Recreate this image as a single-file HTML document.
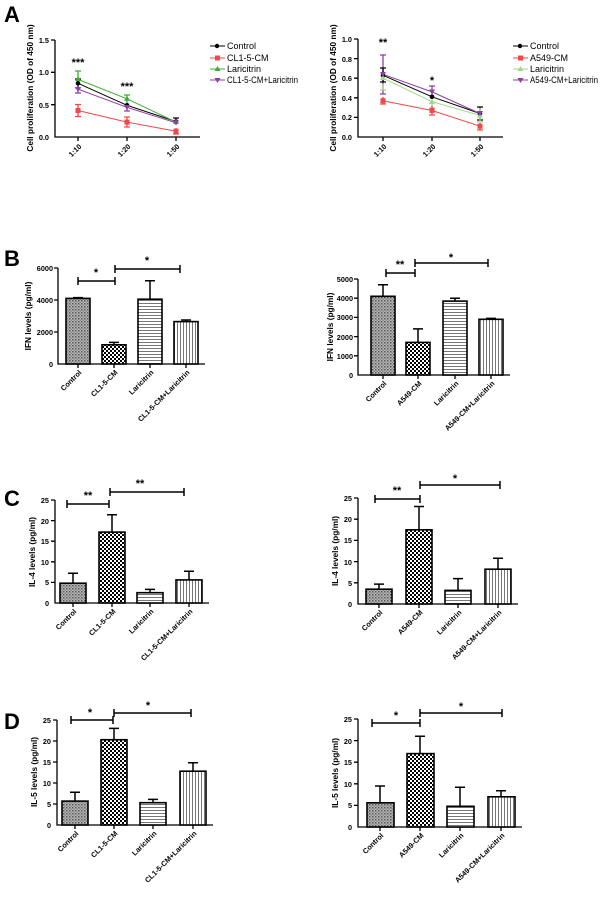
<!DOCTYPE html>
<html><head><meta charset="utf-8"><style>
body{margin:0;background:#fff}
svg{display:block;font-family:"Liberation Sans",Arial,sans-serif;font-weight:bold}
.t{font-size:7.3px}
.yl{font-size:8.3px}
.lg{font-size:9px;font-weight:normal}
.st{font-size:11px}
.ax{stroke:#000;stroke-width:1.3;fill:none}
.b{stroke:#000;stroke-width:1.6}
.e{stroke:#000;stroke-width:1.5;fill:none}
.L{font-size:22px;font-family:"Liberation Sans",Arial,sans-serif;font-weight:bold}
</style></head><body>
<svg width="600" height="901" viewBox="0 0 600 901" xmlns="http://www.w3.org/2000/svg">
<defs>
<pattern id="pc" width="3" height="3" patternUnits="userSpaceOnUse"><rect width="3" height="3" fill="#bbb"/><rect width="1.5" height="1.5" fill="#555"/><rect x="1.5" y="1.5" width="1.5" height="1.5" fill="#888"/></pattern>
<pattern id="pm" width="4" height="4" patternUnits="userSpaceOnUse"><rect width="4" height="4" fill="#fff"/><rect width="2" height="2" fill="#000"/><rect x="2" y="2" width="2" height="2" fill="#000"/></pattern>
<pattern id="ph" width="3" height="3" patternUnits="userSpaceOnUse"><rect width="3" height="3" fill="#fff"/><rect width="3" height="1" fill="#777"/></pattern>
<pattern id="pv" width="3" height="3" patternUnits="userSpaceOnUse"><rect width="3" height="3" fill="#fff"/><rect width="1" height="3" fill="#777"/></pattern>
</defs>
<rect width="600" height="901" fill="#fff"/>
<text class="L" x="4" y="22">A</text>
<text class="L" x="4" y="266">B</text>
<text class="L" x="4" y="506">C</text>
<text class="L" x="4" y="729">D</text>

<!-- A left -->
<g>
<path class="ax" d="M55 40V137H200M51 40H55M51 104.7H55M51 72.3H55M78 137v4M127 137v4M176 137v4"/>
<g class="t" text-anchor="end"><text x="49" y="43">1.5</text><text x="49" y="75">1.0</text><text x="49" y="108">0.5</text><text x="49" y="140">0.0</text></g>
<text class="yl" transform="translate(33,88) rotate(-90)" text-anchor="middle">Cell proliferation (OD of 450 nm)</text>
<g class="t" text-anchor="end"><text transform="translate(82,147) rotate(-45)">1:10</text><text transform="translate(131,147) rotate(-45)">1:20</text><text transform="translate(180,147) rotate(-45)">1:50</text></g>
<text class="st" x="78" y="66" text-anchor="middle">***</text><text class="st" x="127" y="90" text-anchor="middle">***</text>
<polyline points="78,83.3 127,105.3 176,121.5" stroke="#000" fill="none"/>
<polyline points="78,110.5 127,122.1 176,131.2" stroke="#f04848" fill="none"/>
<polyline points="78,79.4 127,98.8 176,122.1" stroke="#3cb030" fill="none"/>
<polyline points="78,89.1 127,107.3 176,122.8" stroke="#8e3fa8" fill="none"/>
<path stroke="#3cb030" stroke-width="1.3" d="M78 71V88M75 71h6M75 88h6M127 95V103M124 95h6"/>
<path stroke="#f04848" stroke-width="1.3" d="M78 104.5V116.5M75 104.5h6M75 116.5h6M127 117V127M124 117h6M124 127h6M176 128V134M173 134h6"/>
<path stroke="#000" stroke-width="1.3" d="M78 79V87M75 79h6M176 118v6M173 118h6"/>
<path stroke="#8e3fa8" stroke-width="1.3" d="M78 85V93M75 93h6M127 103V111M124 111h6"/>
<circle cx="78" cy="83.3" r="2.3"/><circle cx="127" cy="105.3" r="2.3"/><circle cx="176" cy="121.5" r="2.3"/>
<g fill="#f04848"><rect x="75.5" y="108" width="5" height="5"/><rect x="124.5" y="119.6" width="5" height="5"/><rect x="173.5" y="128.7" width="5" height="5"/></g>
<g fill="#3cb030"><path d="M78 76l3 5h-6z M127 95.8l3 5h-6z M176 119l3 5h-6z"/></g>
<g fill="#8e3fa8"><path d="M78 92l3-5h-6z M127 110l3-5h-6z M176 125.5l3-5h-6z"/></g>
<g class="lg">
<path d="M210 46h15" stroke="#000"/><circle cx="217" cy="46" r="2.2"/><text x="227" y="49">Control</text>
<path d="M210 58h15" stroke="#f04848"/><rect x="215" y="55.5" width="5" height="5" fill="#f04848"/><text x="227" y="61">CL1-5-CM</text>
<path d="M210 69h15" stroke="#3cb030"/><path d="M217.5 66l3 5h-6z" fill="#3cb030"/><text x="227" y="72">Laricitrin</text>
<path d="M210 80h15" stroke="#8e3fa8"/><path d="M217.5 83l3-5h-6z" fill="#8e3fa8"/><text x="227" y="83" textLength="71" lengthAdjust="spacingAndGlyphs">CL1-5-CM+Laricitrin</text>
</g>
</g>

<!-- A right -->
<g>
<path class="ax" d="M358 39V137H503M354 39H358M354 58.6H358M354 78.2H358M354 97.8H358M354 117.4H358M383 137v4M432 137v4M480 137v4"/>
<g class="t" text-anchor="end"><text x="352" y="42">1.0</text><text x="352" y="62">0.8</text><text x="352" y="81">0.6</text><text x="352" y="101">0.4</text><text x="352" y="120">0.2</text><text x="352" y="140">0.0</text></g>
<text class="yl" transform="translate(336,88) rotate(-90)" text-anchor="middle">Cell proliferation (OD of 450 nm)</text>
<g class="t" text-anchor="end"><text transform="translate(387,147) rotate(-45)">1:10</text><text transform="translate(436,147) rotate(-45)">1:20</text><text transform="translate(484,147) rotate(-45)">1:50</text></g>
<text class="st" x="383" y="46" text-anchor="middle">**</text><text class="st" x="432" y="84" text-anchor="middle">*</text>
<polyline points="383,75.3 432,96.8 480,113.5" stroke="#000" fill="none"/>
<polyline points="383,100.7 432,110.5 480,126.2" stroke="#f04848" fill="none"/>
<polyline points="383,78.2 432,101.7 480,115.4" stroke="#9fd88a" fill="none"/>
<polyline points="383,74.3 432,91.9 480,113.5" stroke="#8e3fa8" fill="none"/>
<path stroke="#8e3fa8" stroke-width="1.3" d="M383 55V94M380 55h6M380 94h6M432 86V98M429 86h6"/>
<path stroke="#000" stroke-width="1.3" d="M383 68V82M380 68h6M380 82h6M480 107v13M477 107h6M477 120h6"/>
<path stroke="#9fd88a" stroke-width="1.3" d="M383 84v6M380 90h6M432 102v6M429 108h6M480 108V122M477 122h6"/>
<path stroke="#f04848" stroke-width="1.3" d="M383 97V104M380 104h6M432 106V115M429 115h6M480 123V130M477 130h6"/>
<circle cx="383" cy="75.3" r="2.3"/><circle cx="432" cy="96.8" r="2.3"/><circle cx="480" cy="113.5" r="2.3"/>
<g fill="#f04848"><rect x="380.5" y="98.2" width="5" height="5"/><rect x="429.5" y="108" width="5" height="5"/><rect x="477.5" y="123.7" width="5" height="5"/></g>
<g fill="#9fd88a"><path d="M383 75l3 5h-6z M432 99l3 5h-6z M480 112.5l3 5h-6z"/></g>
<g fill="#8e3fa8"><path d="M383 77l3-5h-6z M432 94.5l3-5h-6z M480 116l3-5h-6z"/></g>
<g class="lg">
<path d="M513 46h15" stroke="#000"/><circle cx="520" cy="46" r="2.2"/><text x="530" y="49">Control</text>
<path d="M513 58h15" stroke="#f04848"/><rect x="518" y="55.5" width="5" height="5" fill="#f04848"/><text x="530" y="61">A549-CM</text>
<path d="M513 69h15" stroke="#9fd88a"/><path d="M520.5 66l3 5h-6z" fill="#9fd88a"/><text x="530" y="72">Laricitrin</text>
<path d="M513 80h15" stroke="#8e3fa8"/><path d="M520.5 83l3-5h-6z" fill="#8e3fa8"/><text x="530" y="83" textLength="68" lengthAdjust="spacingAndGlyphs">A549-CM+Laricitrin</text>
</g>
</g>

<!-- B left -->
<g>
<path class="ax" d="M58 268V364H205M54 268H58M54 300H58M54 332H58M78 364v4M114 364v4M150 364v4M186 364v4"/>
<g class="t" text-anchor="end"><text x="53" y="271">6000</text><text x="53" y="303">4000</text><text x="53" y="335">2000</text><text x="53" y="367">0</text></g>
<text class="yl" transform="translate(31,316) rotate(-90)" text-anchor="middle">IFN levels (pg/ml)</text>
<path class="e" d="M78 298.4V297.6M73 297.6h10M114 344.8V342.4M109 342.4h10M150 299.2V280.8M145 280.8h10M186 321.6V320M181 320h10"/>
<rect class="b" x="66" y="298.4" width="24" height="65.6" fill="url(#pc)"/>
<rect class="b" x="102" y="344.8" width="24" height="19.2" fill="url(#pm)"/>
<rect class="b" x="138" y="299.2" width="24" height="64.8" fill="url(#ph)"/>
<rect class="b" x="174" y="321.6" width="24" height="42.4" fill="url(#pv)"/>
<path class="e" d="M78 281H115M78 277v8M115 277v8M115 269H180M115 265v8M180 265v8"/>
<text class="st" x="96" y="276" text-anchor="middle">*</text><text class="st" x="147" y="264" text-anchor="middle">*</text>
<g class="t" text-anchor="end"><text transform="translate(82,373) rotate(-45)">Control</text><text transform="translate(118,373) rotate(-45)">CL1-5-CM</text><text transform="translate(154,373) rotate(-45)">Laricitrin</text><text transform="translate(190,373) rotate(-45)">CL1-5-CM+Laricitrin</text></g>
</g>

<!-- B right -->
<g>
<path class="ax" d="M358 279V375H510M354 279H358M354 298.2H358M354 317.4H358M354 336.6H358M354 355.8H358M383 375v4M418 375v4M455 375v4M491 375v4"/>
<g class="t" text-anchor="end"><text x="353" y="282">5000</text><text x="353" y="301">4000</text><text x="353" y="320">3000</text><text x="353" y="340">2000</text><text x="353" y="359">1000</text><text x="353" y="378">0</text></g>
<text class="yl" transform="translate(333,327) rotate(-90)" text-anchor="middle">IFN levels (pg/ml)</text>
<path class="e" d="M383 296.3V284.8M378 284.8h10M418 342.4V328.9M413 328.9h10M455 301.1V298.2M450 298.2h10M491 319.3V318.4M486 318.4h10"/>
<rect class="b" x="371" y="296.3" width="24" height="78.7" fill="url(#pc)"/>
<rect class="b" x="406" y="342.4" width="24" height="32.6" fill="url(#pm)"/>
<rect class="b" x="443" y="301.1" width="24" height="73.9" fill="url(#ph)"/>
<rect class="b" x="479" y="319.3" width="24" height="55.7" fill="url(#pv)"/>
<path class="e" d="M386 273H415M386 269v8M415 269v8M415 263H488M415 259v8M488 259v8"/>
<text class="st" x="400" y="268" text-anchor="middle">**</text><text class="st" x="451" y="261" text-anchor="middle">*</text>
<g class="t" text-anchor="end"><text transform="translate(387,384) rotate(-45)">Control</text><text transform="translate(422,384) rotate(-45)">A549-CM</text><text transform="translate(459,384) rotate(-45)">Laricitrin</text><text transform="translate(495,384) rotate(-45)">A549-CM+Laricitrin</text></g>
</g>

<!-- C left -->
<g>
<path class="ax" d="M55 500V603H209M51 500H55M51 520.6H55M51 541.2H55M51 561.8H55M51 582.4H55M73 603v4M112 603v4M150 603v4M189 603v4"/>
<g class="t" text-anchor="end"><text x="49" y="503">25</text><text x="49" y="524">20</text><text x="49" y="544">15</text><text x="49" y="565">10</text><text x="49" y="585">5</text><text x="49" y="606">0</text></g>
<text class="yl" transform="translate(35,552) rotate(-90)" text-anchor="middle">IL-4 levels (pg/ml)</text>
<path class="e" d="M73 583.2V573.3M68 573.3h10M112 532.1V514.8M107 514.8h10M150 592.7V589.4M145 589.4h10M189 579.9V571.3M184 571.3h10"/>
<rect class="b" x="60" y="583.2" width="26" height="19.8" fill="url(#pc)"/>
<rect class="b" x="99" y="532.1" width="26" height="70.9" fill="url(#pm)"/>
<rect class="b" x="137" y="592.7" width="26" height="10.3" fill="url(#ph)"/>
<rect class="b" x="176" y="579.9" width="26" height="23.1" fill="url(#pv)"/>
<path class="e" d="M67 504H109M67 500v8M109 500v8M110 492H184M110 488v8M184 488v8"/>
<text class="st" x="88" y="499" text-anchor="middle">**</text><text class="st" x="140" y="487" text-anchor="middle">**</text>
<g class="t" text-anchor="end"><text transform="translate(77,612) rotate(-45)">Control</text><text transform="translate(116,612) rotate(-45)">CL1-5-CM</text><text transform="translate(154,612) rotate(-45)">Laricitrin</text><text transform="translate(193,612) rotate(-45)">CL1-5-CM+Laricitrin</text></g>
</g>

<!-- C right -->
<g>
<path class="ax" d="M358 498V604H518M354 498H358M354 519.2H358M354 540.4H358M354 561.6H358M354 582.8H358M379 604v4M419 604v4M458 604v4M498 604v4"/>
<g class="t" text-anchor="end"><text x="352" y="501">25</text><text x="352" y="522">20</text><text x="352" y="543">15</text><text x="352" y="565">10</text><text x="352" y="586">5</text><text x="352" y="607">0</text></g>
<text class="yl" transform="translate(338,551) rotate(-90)" text-anchor="middle">IL-4 levels (pg/ml)</text>
<path class="e" d="M379 589.2V584.1M374 584.1h10M419 529.8V506.5M414 506.5h10M458 590.4V578.6M453 578.6h10M498 569.2V558.2M493 558.2h10"/>
<rect class="b" x="366" y="589.2" width="26" height="14.8" fill="url(#pc)"/>
<rect class="b" x="406" y="529.8" width="26" height="74.2" fill="url(#pm)"/>
<rect class="b" x="445" y="590.4" width="26" height="13.6" fill="url(#ph)"/>
<rect class="b" x="485" y="569.2" width="26" height="34.8" fill="url(#pv)"/>
<path class="e" d="M375 499H420M375 495v8M420 495v8M420 485H500M420 481v8M500 481v8"/>
<text class="st" x="397" y="494" text-anchor="middle">**</text><text class="st" x="455" y="482" text-anchor="middle">*</text>
<g class="t" text-anchor="end"><text transform="translate(383,613) rotate(-45)">Control</text><text transform="translate(423,613) rotate(-45)">A549-CM</text><text transform="translate(462,613) rotate(-45)">Laricitrin</text><text transform="translate(502,613) rotate(-45)">A549-CM+Laricitrin</text></g>
</g>

<!-- D left -->
<g>
<path class="ax" d="M57 720V825H213M53 720H57M53 741H57M53 762H57M53 783H57M53 804H57M75 825v4M114 825v4M153 825v4M193 825v4"/>
<g class="t" text-anchor="end"><text x="51" y="723">25</text><text x="51" y="744">20</text><text x="51" y="765">15</text><text x="51" y="786">10</text><text x="51" y="807">5</text><text x="51" y="828">0</text></g>
<text class="yl" transform="translate(37,772) rotate(-90)" text-anchor="middle">IL-5 levels (pg/ml)</text>
<path class="e" d="M75 801.1V792.2M70 792.2h10M114 739.7V728.4M109 728.4h10M153 802.7V799.4M148 799.4h10M193 771.2V762.8M188 762.8h10"/>
<rect class="b" x="62" y="801.1" width="26" height="23.9" fill="url(#pc)"/>
<rect class="b" x="101" y="739.7" width="26" height="85.3" fill="url(#pm)"/>
<rect class="b" x="140" y="802.7" width="26" height="22.3" fill="url(#ph)"/>
<rect class="b" x="180" y="771.2" width="26" height="53.8" fill="url(#pv)"/>
<path class="e" d="M71 720H113M71 716v8M113 716v8M114 713H191M114 709v8M191 709v8"/>
<text class="st" x="90" y="716" text-anchor="middle">*</text><text class="st" x="148" y="709" text-anchor="middle">*</text>
<g class="t" text-anchor="end"><text transform="translate(79,834) rotate(-45)">Control</text><text transform="translate(118,834) rotate(-45)">CL1-5-CM</text><text transform="translate(157,834) rotate(-45)">Laricitrin</text><text transform="translate(197,834) rotate(-45)">CL1-5-CM+Laricitrin</text></g>
</g>

<!-- D right -->
<g>
<path class="ax" d="M358 719V827H522M354 719H358M354 740.6H358M354 762.2H358M354 783.8H358M354 805.4H358M380 827v4M420 827v4M460 827v4M501 827v4"/>
<g class="t" text-anchor="end"><text x="352" y="722">25</text><text x="352" y="744">20</text><text x="352" y="765">15</text><text x="352" y="787">10</text><text x="352" y="808">5</text><text x="352" y="830">0</text></g>
<text class="yl" transform="translate(338,773) rotate(-90)" text-anchor="middle">IL-5 levels (pg/ml)</text>
<path class="e" d="M380 802.8V786M375 786h10M420 753.6V736.3M415 736.3h10M460 806.3V787.3M455 787.3h10M501 796.8V790.7M496 790.7h10"/>
<rect class="b" x="367" y="802.8" width="27" height="24.2" fill="url(#pc)"/>
<rect class="b" x="407" y="753.6" width="27" height="73.4" fill="url(#pm)"/>
<rect class="b" x="447" y="806.3" width="27" height="20.7" fill="url(#ph)"/>
<rect class="b" x="488" y="796.8" width="27" height="30.2" fill="url(#pv)"/>
<path class="e" d="M372 723H420M372 719v8M420 719v8M420 713H502M420 709v8M502 709v8"/>
<text class="st" x="396" y="719" text-anchor="middle">*</text><text class="st" x="461" y="710" text-anchor="middle">*</text>
<g class="t" text-anchor="end"><text transform="translate(384,836) rotate(-45)">Control</text><text transform="translate(424,836) rotate(-45)">A549-CM</text><text transform="translate(464,836) rotate(-45)">Laricitrin</text><text transform="translate(505,836) rotate(-45)">A549-CM+Laricitrin</text></g>
</g>
</svg>
</body></html>
